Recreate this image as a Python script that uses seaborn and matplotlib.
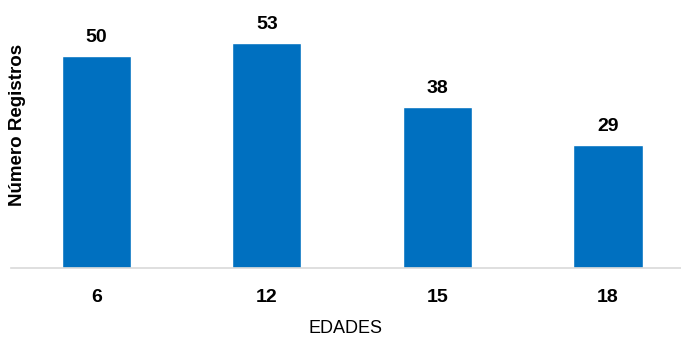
import matplotlib
matplotlib.use("Agg")
import pandas as pd
import seaborn as sns
import matplotlib.pyplot as plt

# chart data
edades = ["6", "12", "15", "18"]
registros = [50, 53, 38, 29]

df = pd.DataFrame({"EDADES": edades, "Registros": registros})

sns.set_style("white")
plt.rcParams["font.family"] = ["Liberation Sans Narrow", "Liberation Sans", "DejaVu Sans"]
plt.rcParams["text.color"] = "black"
plt.rcParams["axes.labelcolor"] = "black"
plt.rcParams["xtick.color"] = "black"

fig = plt.figure(figsize=(6.81, 3.39), dpi=100)
ax = fig.add_axes([11 / 681, 71 / 339, 670 / 681, 268 / 339])

sns.barplot(data=df, x="EDADES", y="Registros", color="#0070C0",
            width=0.405, saturation=1, ax=ax)

ax.set_xlim(-0.5, 3.428)
ax.set_ylim(0, 63.1)

for c in ax.containers:
    ax.bar_label(c, padding=7, fontsize=14, fontweight="bold")

for s in ["top", "right", "left"]:
    ax.spines[s].set_visible(False)
ax.spines["bottom"].set_color("#D9D9D9")
ax.spines["bottom"].set_linewidth(1.2)

ax.set_yticks([])
ax.tick_params(axis="x", length=0, pad=15, labelsize=14)
for t in ax.get_xticklabels():
    t.set_fontweight("bold")

ax.set_xlabel("EDADES", fontsize=13, labelpad=10)
ax.set_ylabel("")
fig.text(18 / 681, 1 - 125 / 339, "Número Registros", rotation=90,
         ha="center", va="center", fontsize=13.5, fontweight="bold")

fig.savefig("out.png", dpi=100)
